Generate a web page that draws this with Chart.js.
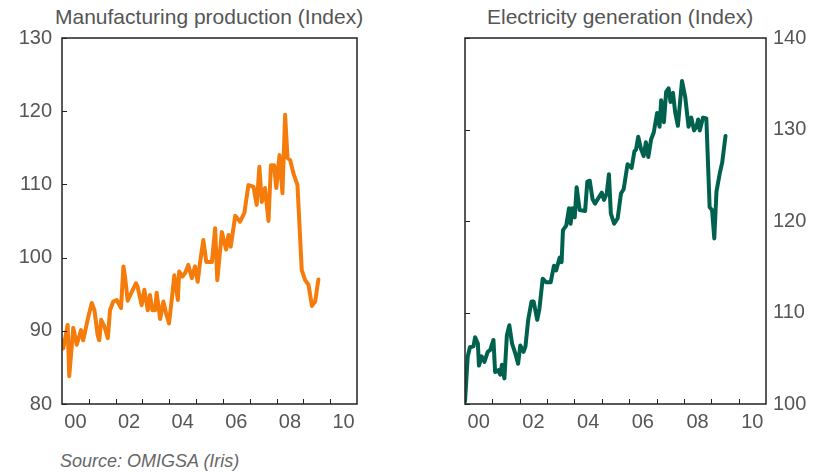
<!DOCTYPE html>
<html>
<head>
<meta charset="utf-8">
<script src="https://cdn.jsdelivr.net/npm/chart.js@4.4.0/dist/chart.umd.min.js"></script>
<style>
  body { margin: 0; background: #fff; }
  #wrap { position: relative; width: 829px; height: 472px; font-family: 'Liberation Sans', Arial, sans-serif; color: #555; }
  .title { position: absolute; top: 5px; font-size: 21px; white-space: nowrap; }
  #src { position: absolute; left: 60px; top: 451px; font-size: 18px; font-style: italic; color: #666; }
  canvas { position: absolute; top: 0; }
</style>
</head>
<body>
<div id="wrap">
  <div class="title" id="t1" style="left:55px">Manufacturing production (Index)</div>
  <div class="title" id="t2" style="left:487px">Electricity generation (Index)</div>
  <canvas id="c1" style="left:0px"></canvas>
  <canvas id="c2" style="left:420px"></canvas>
  <div id="src">Source: OMIGSA (Iris)</div>
</div>
<script>
// x-axis: decimal years, labels on even years
const xLabels = [2000, 2002, 2004, 2006, 2008, 2010];

const mfgYears = [2000.00,2000.05,2000.21,2000.27,2000.42,2000.55,2000.71,2000.79,2000.98,2001.11,2001.21,2001.33,2001.39,2001.46,2001.58,2001.71,2001.79,2001.91,2002.04,2002.20,2002.29,2002.35,2002.45,2002.60,2002.76,2002.82,2002.97,2003.07,2003.20,2003.28,2003.37,2003.47,2003.53,2003.66,2003.78,2003.88,2003.99,2004.09,2004.19,2004.32,2004.37,2004.49,2004.59,2004.71,2004.84,2004.96,2005.06,2005.15,2005.27,2005.38,2005.59,2005.71,2005.79,2005.96,2006.12,2006.21,2006.29,2006.46,2006.64,2006.80,2006.95,2007.14,2007.26,2007.36,2007.45,2007.57,2007.70,2007.79,2007.91,2007.99,2008.11,2008.22,2008.32,2008.41,2008.51,2008.63,2008.78,2008.94,2009.07,2009.19,2009.32,2009.44,2009.56];
const mfgValues = [88.7,87.6,90.8,83.8,90.4,88.1,90.1,88.7,91.9,93.8,92.8,89.4,88.7,91.5,90.6,89.0,92.8,94.0,94.2,93.1,98.8,97.4,94.1,95.3,96.5,96.0,93.5,95.6,92.8,94.9,92.8,92.8,95.2,91.6,94.0,92.4,91.0,94.2,97.6,94.2,98.1,97.4,97.9,99.0,97.2,98.8,96.7,99.4,102.4,99.4,99.4,104.0,96.9,103.5,101.1,103.1,101.5,105.7,104.9,106.1,109.9,109.7,107.2,112.4,107.6,109.5,105.0,112.6,112.6,109.5,114.0,108.8,119.5,113.6,113.3,111.5,109.9,98.3,96.9,96.3,93.4,94.0,97.0];

const elecYears = [2000.00,2000.10,2000.18,2000.31,2000.37,2000.47,2000.51,2000.61,2000.71,2000.83,2000.92,2001.04,2001.10,2001.22,2001.29,2001.35,2001.44,2001.53,2001.62,2001.72,2001.84,2001.94,2002.02,2002.14,2002.21,2002.31,2002.43,2002.51,2002.64,2002.72,2002.84,2002.97,2003.13,2003.25,2003.33,2003.46,2003.53,2003.58,2003.70,2003.80,2003.86,2003.92,2004.01,2004.08,2004.19,2004.39,2004.47,2004.56,2004.66,2004.75,2005.00,2005.08,2005.18,2005.26,2005.33,2005.45,2005.58,2005.70,2005.80,2005.94,2006.09,2006.19,2006.25,2006.33,2006.43,2006.53,2006.61,2006.70,2006.80,2006.90,2007.02,2007.11,2007.17,2007.27,2007.35,2007.44,2007.51,2007.60,2007.68,2007.78,2007.93,2008.05,2008.17,2008.27,2008.37,2008.46,2008.52,2008.58,2008.70,2008.82,2008.94,2009.03,2009.11,2009.19,2009.31,2009.40,2009.52];
const elecValues = [100.3,105.2,106.2,106.3,107.3,106.6,104.2,105.2,104.6,105.7,105.9,107.0,103.5,103.7,103.2,104.3,102.8,107.5,108.6,106.6,105.5,104.4,106.4,105.7,106.3,109.2,111.2,111.2,109.2,110.4,113.7,113.3,113.3,115.1,114.6,116.0,115.5,119.0,119.5,121.4,119.7,121.4,120.4,123.7,121.2,121.1,124.3,124.4,122.4,121.9,123.1,122.3,123.0,125.1,120.8,119.7,120.3,123.0,123.5,126.2,125.8,127.6,127.8,129.2,127.9,127.1,128.6,127.0,128.9,129.7,131.8,130.3,133.2,130.8,134.1,134.5,133.0,134.0,131.9,130.4,135.3,133.5,130.3,131.3,129.9,130.3,131.1,129.9,131.3,131.2,121.5,121.2,118.1,123.2,125.2,126.4,129.3];

const fontFamily = "'Liberation Sans', Arial, sans-serif";
const tickColor = '#555';

// box + inward tick marks
const boxPlugin = {
  id: 'box',
  afterDraw(chart) {
    const { ctx, chartArea: a, scales } = chart;
    ctx.save();
    ctx.strokeStyle = '#222';
    ctx.lineWidth = 1.5;
    ctx.strokeRect(a.left, a.top, a.right - a.left, a.bottom - a.top);
    ctx.lineWidth = 1;
    ctx.beginPath();
    for (let yr = 2001; yr <= 2010; yr++) {
      const px = Math.round(scales.x.getPixelForValue(yr)) + 0.5;
      ctx.moveTo(px, a.bottom);
      ctx.lineTo(px, a.bottom - 5);
    }
    scales.y.ticks.forEach(t => {
      const py = Math.round(scales.y.getPixelForValue(t.value)) + 0.5;
      ctx.moveTo(a.left, py);
      ctx.lineTo(a.left + 5, py);
    });
    ctx.stroke();
    ctx.restore();
  }
};

function makeChart(id, years, values, color, yMin, yMax, yPos, w, pad) {
  const cv = document.getElementById(id);
  cv.width = w; cv.height = 440;
  cv.style.width = w + 'px'; cv.style.height = '440px';
  return new Chart(cv.getContext('2d'), {
    type: 'line',
    data: {
      datasets: [{
        data: years.map((x, i) => ({ x: x, y: values[i] })),
        borderColor: color,
        borderWidth: 4,
        pointRadius: 0,
        tension: 0,
        borderJoinStyle: 'round',
        borderCapStyle: 'round'
      }]
    },
    options: {
      responsive: false,
      animation: false,
      layout: { padding: pad },
      plugins: { legend: { display: false }, tooltip: { enabled: false } },
      scales: {
        x: {
          type: 'linear',
          min: 2000, max: 2011,
          grid: { display: false, drawTicks: false },
          border: { display: false },
          afterBuildTicks: s => { s.ticks = xLabels.map(v => ({ value: v + 0.5 })); },
          afterFit: s => { s.height = 36; },
          ticks: {
            padding: 6,
            color: tickColor,
            font: { family: fontFamily, size: 20 },
            callback: v => String(Math.floor(v) % 100).padStart(2, '0')
          }
        },
        y: {
          position: yPos,
          min: yMin, max: yMax,
          grid: { display: false, drawTicks: false },
          border: { display: false },
          afterFit: s => { s.width = yPos === 'left' ? 62 : 63; },
          ticks: {
            stepSize: 10,
            padding: yPos === 'left' ? 10 : 7,
            color: tickColor,
            font: { family: fontFamily, size: 20 }
          }
        }
      }
    },
    plugins: [boxPlugin]
  });
}

makeChart('c1', mfgYears, mfgValues, '#F57C0A', 80, 130, 'left', 400, { left: 0, right: 43, top: 38, bottom: 0 });
makeChart('c2', elecYears, elecValues, '#00624E', 100, 140, 'right', 409, { left: 45, right: 0, top: 38, bottom: 0 });
</script>
</body>
</html>
